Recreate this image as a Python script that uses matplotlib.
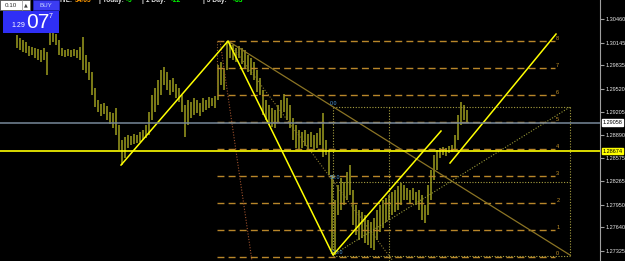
import numpy as np
import matplotlib.pyplot as plt
from matplotlib.patches import Rectangle

# bar highs / lows, one entry per bar
highs = [1.30247, 1.30206, 1.30179, 1.30152, 1.30098, 1.30084, 1.30071, 1.30057, 1.30044, 1.30071,
         1.30016, 1.30274, 1.30274, 1.30260, 1.30179, 1.30071, 1.30044, 1.30057, 1.30044, 1.30057,
         1.30044, 1.30084, 1.30220, 1.29976, 1.29881, 1.29745, 1.29529, 1.29366, 1.29312, 1.29325,
         1.29285, 1.29203, 1.29190, 1.29258, 1.29027, 1.28824, 1.28865, 1.28892, 1.28878, 1.28905,
         1.28892, 1.28932, 1.28960, 1.29027, 1.29203, 1.29434, 1.29529, 1.29637, 1.29773, 1.29813,
         1.29745, 1.29637, 1.29664, 1.29583, 1.29529, 1.29434, 1.29298, 1.29366, 1.29339, 1.29393,
         1.29366, 1.29325, 1.29393, 1.29366, 1.29407, 1.29393, 1.29420, 1.29840, 1.29881, 1.29800,
         1.30165, 1.30152, 1.30111, 1.30071, 1.30098, 1.30071, 1.30044, 1.29976, 1.29935, 1.29881,
         1.29773, 1.29664, 1.29502, 1.29366, 1.29298, 1.29258, 1.29231, 1.29298, 1.29366, 1.29447,
         1.29393, 1.29298, 1.29122, 1.29027, 1.28960, 1.28932, 1.28960, 1.28905, 1.28932, 1.28892,
         1.28919, 1.28987, 1.29190, 1.28824, 1.28689, 1.28350, 1.28011, 1.28214, 1.28309, 1.28255,
         1.28390, 1.28485, 1.28147, 1.27943, 1.27875, 1.27848, 1.27808, 1.27740, 1.27713, 1.27767,
         1.27875, 1.27943, 1.28011, 1.28038, 1.28079, 1.28119, 1.28147, 1.28201, 1.28241, 1.28214,
         1.28174, 1.28147, 1.28174, 1.28119, 1.28147, 1.28079, 1.27943, 1.28214, 1.28418, 1.28621,
         1.28689, 1.28716, 1.28729, 1.28716, 1.28743, 1.28756, 1.28892, 1.29163, 1.29339, 1.29298,
         1.29231]
lows = [1.30071, 1.30044, 1.30016, 1.30003, 1.29962, 1.29976, 1.29935, 1.29908, 1.29881, 1.29908,
        1.29705, 1.30111, 1.30152, 1.30111, 1.29976, 1.29962, 1.29949, 1.29962, 1.29949, 1.29962,
        1.29935, 1.29908, 1.29773, 1.29732, 1.29637, 1.29434, 1.29271, 1.29203, 1.29149, 1.29176,
        1.29095, 1.29041, 1.28987, 1.28892, 1.28689, 1.28485, 1.28580, 1.28716, 1.28756, 1.28770,
        1.28783, 1.28797, 1.28824, 1.28851, 1.28892, 1.29095, 1.29203, 1.29298, 1.29434, 1.29569,
        1.29502, 1.29434, 1.29474, 1.29393, 1.29339, 1.29203, 1.28865, 1.29027, 1.29122, 1.29163,
        1.29190, 1.29149, 1.29203, 1.29231, 1.29258, 1.29285, 1.29258, 1.29366, 1.29569, 1.29502,
        1.29773, 1.29935, 1.29908, 1.29881, 1.29935, 1.29854, 1.29800, 1.29745, 1.29705, 1.29637,
        1.29474, 1.29434, 1.29163, 1.29095, 1.29027, 1.29000, 1.28987, 1.29068, 1.29122, 1.29203,
        1.29095, 1.28987, 1.28824, 1.28716, 1.28689, 1.28716, 1.28743, 1.28689, 1.28729, 1.28689,
        1.28716, 1.28756, 1.28594, 1.28621, 1.28350, 1.27334, 1.27266, 1.27808, 1.27875, 1.27943,
        1.28011, 1.28079, 1.27672, 1.27537, 1.27469, 1.27496, 1.27429, 1.27401, 1.27361, 1.27334,
        1.27469, 1.27578, 1.27632, 1.27713, 1.27740, 1.27808, 1.27848, 1.27875, 1.27943, 1.28011,
        1.28011, 1.27970, 1.28011, 1.27943, 1.27875, 1.27740, 1.27699, 1.27808, 1.28011, 1.28282,
        1.28418, 1.28580, 1.28621, 1.28607, 1.28648, 1.28661, 1.28689, 1.28824, 1.29027, 1.29095,
        1.29054]

price_ticks = [1.30460, 1.30145, 1.29835, 1.29520, 1.29205, 1.28890,
               1.28575, 1.28265, 1.27950, 1.27640, 1.27325]
bid_price = 1.29058
hline_price = 1.28674

# drawing objects (bar index, price)
zig_x = [34.67, 70.33, 105.33, 141.33]
zig_y = [1.28485, 1.30165, 1.27266, 1.28946]
chan_x = [144.33, 179.67]
chan_y = [1.28512, 1.30260]

fibo_lo, fibo_hi = 1.27245, 1.30170
fibo_levels = [0, 1, 2, 3, 4, 5, 6, 7, 8]
fibo_x = [66.67, 179.33]

retr_x = [105.33, 184.33]
retr_labels = ['0.0', '50.0', '100.0']
retr_prices = [1.29271, 1.28262, 1.27252]

trend_x = [70.33, 184.33]
trend_y = [1.30165, 1.27266]
fan1_x = [70.33, 125.33]
fan1_y = [1.30165, 1.27185]
fan2_x = [67.67, 78.33]
fan2_y = [1.30165, 1.27185]
diag_x = [105.33, 184.33]
diag_y = [1.27266, 1.29271]

ymin, ymax = 1.27185, 1.30721
axis_font = 'Liberation Sans'

fig = plt.figure(figsize=(6.25, 2.61), dpi=100, facecolor='black')
ax = fig.add_axes([0, 0, 600 / 625, 1], facecolor='black')
ax.set_xlim(-5.67, 194.33)
ax.set_ylim(ymin, ymax)

bar_x = np.arange(len(highs))
ax.vlines(bar_x, lows, highs, color='#86861a', lw=1.3, zorder=2)

# fibo expansion grid
step = (fibo_hi - fibo_lo) / 8
for lv in fibo_levels:
    p = fibo_lo + lv * step
    ax.plot(fibo_x, [p, p], color='#b8862a', lw=1, ls=(0, (5, 3)), zorder=3)
    ax.text(fibo_x[1] + 0.4, p + 0.00035, str(lv), color='#c8962a', fontsize=4,
            family=axis_font, ha='left', va='center', zorder=4)
ax.plot([fibo_x[0], fibo_x[0]], [fibo_hi, fibo_hi - 2 * step], color='#8b5a2b',
        lw=0.8, ls=(0, (1, 1.5)), zorder=3)

# retracement
for lab, p in zip(retr_labels, retr_prices):
    ax.plot(retr_x, [p, p], color='#a8a040', lw=0.8, ls=(0, (1, 1.5)), zorder=3)
    ax.text(retr_x[0] - 1.0, p + 0.0002, lab, color='#4f9be0', fontsize=3.8,
            family=axis_font, ha='left', va='bottom', zorder=4)
for xv in [retr_x[0], 124.0, retr_x[1]]:
    ax.plot([xv, xv], [retr_prices[0], ymin if xv == 124.0 else retr_prices[2]],
            color='#a8a040', lw=0.8, ls=(0, (1, 1.5)), zorder=3)

ax.plot(trend_x, trend_y, color='#8b7424', lw=0.9, zorder=3)
ax.plot(fan1_x, fan1_y, color='#8b7a30', lw=0.8, ls=(0, (1, 1.5)), zorder=3)
ax.plot(fan2_x, fan2_y, color='#a0522d', lw=0.8, ls=(0, (1, 1.5)), zorder=3)
ax.plot(diag_x, diag_y, color='#9a9a38', lw=0.8, ls=(0, (1, 1.5)), zorder=3)

# zigzag + channel
ax.plot(zig_x, zig_y, color='#ffff00', lw=1.1, zorder=5)
ax.plot(chan_x, chan_y, color='#ffff00', lw=1.1, zorder=5)

ax.axhline(bid_price, color='#778899', lw=1.1, zorder=5)
ax.axhline(hline_price, color='#ffff00', lw=1.2, zorder=5)

for s in ['left', 'top', 'bottom']:
    ax.spines[s].set_visible(False)
ax.spines['right'].set_color('#a0a0a0')
ax.set_xticks([])
ax.yaxis.tick_right()
ax.set_yticks(price_ticks)
ax.set_yticklabels(['%.5f' % t for t in price_ticks], family=axis_font)
ax.tick_params(axis='y', colors='#a0a0a0', labelcolor='#e8e8e8', labelsize=4.0,
               length=3, width=0.8, pad=1)

ytr = ax.get_yaxis_transform()
ax.text(1.004, bid_price, '%.5f' % bid_price, transform=ytr, fontsize=4.0, color='black',
        family=axis_font, ha='left', va='center', clip_on=False, zorder=6,
        bbox=dict(facecolor='white', edgecolor='white', pad=0.6))
ax.text(1.004, hline_price, '%.5f' % hline_price, transform=ytr, fontsize=4.0, color='black',
        family=axis_font, ha='left', va='center', clip_on=False, zorder=6,
        bbox=dict(facecolor='#ffff00', edgecolor='#ffff00', pad=0.6))

# trade panel overlay (pixel space)
ui = fig.add_axes([0, 0, 1, 1])
ui.set_xlim(0, 625)
ui.set_ylim(261, 0)
ui.axis('off')
ui.patch.set_alpha(0)

ui.add_patch(Rectangle((0, 0), 30, 10, facecolor='white', edgecolor='#606060', lw=0.6))
ui.plot([22, 22], [0, 10], color='#909090', lw=0.5)
ui.text(11, 5.5, '0.10', fontsize=4.5, family=axis_font, color='#303030', ha='center', va='center')
ui.text(26, 5, '▲', fontsize=3.5, color='#404040', ha='center', va='center')
ui.add_patch(Rectangle((33, 0), 26, 10, facecolor='#3c3cf2', edgecolor='#2020c0', lw=0.5))
ui.text(46, 5.5, 'BUY', fontsize=4.5, family=axis_font, color='#c8d8ff', ha='center', va='center')
ui.add_patch(Rectangle((3, 11), 56, 22, facecolor='#2f2ff5', edgecolor='#2f2ff5', lw=0))
ui.text(18, 25.5, '1.29', fontsize=5, family=axis_font, color='white', ha='center', va='center')
ui.text(38, 22.5, '07', fontsize=15, family=axis_font, color='white', ha='center', va='center')
ui.text(51, 16.5, '7', fontsize=5, family=axis_font, color='white', ha='center', va='center')

# info line, cut off at the top edge like the terminal shows it
info = [(60, 'H/L:', '#e0e0e0'), (75, '34/65', '#ff9900'), (99, '| Today:', '#e0e0e0'),
        (125, '+5', '#00ff00'), (142, '| 1 Day:', '#e0e0e0'), (170, '+22', '#00ff00'),
        (203, '| 5 Day:', '#e0e0e0'), (232, '+83', '#00ff00')]
for xp, t, c in info:
    ui.text(xp, 0.5, t, fontsize=4.8, family=axis_font, color=c, ha='left', va='center',
            fontweight='bold')

fig.savefig('out.png', dpi=100, facecolor='black')
